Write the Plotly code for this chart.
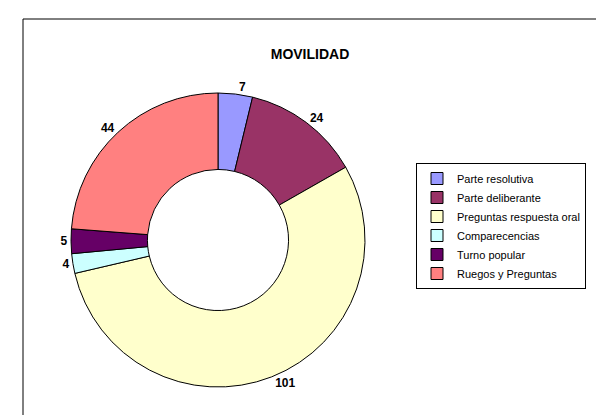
import plotly.graph_objects as go

categories = ["Parte resolutiva", "Parte deliberante", "Preguntas respuesta oral",
              "Comparecencias", "Turno popular", "Ruegos y Preguntas"]
values = [7, 24, 101, 4, 5, 44]
colors = ["#9999FF", "#993366", "#FFFFCC", "#CCFFFF", "#660066", "#FF8080"]

W, H = 604, 415

fig = go.Figure(go.Pie(
    labels=categories, values=values, sort=False, direction="clockwise", rotation=0,
    hole=0.48,
    marker=dict(colors=colors, line=dict(color="black", width=1)),
    texttemplate="%{value}", textposition="outside",
    textfont=dict(family="Liberation Sans, Arial", size=12, color="black", weight="bold"),
    domain=dict(x=[63 / W, 357 / W], y=[1 - 379 / H, 1 - 85 / H]),
    hoverinfo="label+value",
))

fig.update_layout(
    width=W, height=H, margin=dict(l=0, r=0, t=0, b=0),
    paper_bgcolor="white", plot_bgcolor="white",
    font=dict(family="Liberation Sans, Arial", color="black"),
    title=dict(text="<b>MOVILIDAD</b>", x=302 / W, xanchor="center",
               y=1 - 46 / H, yanchor="middle",
               font=dict(size=14, family="Liberation Sans, Arial", color="black")),
    legend=dict(x=408 / W, y=1 - 155 / H, xanchor="left", yanchor="top",
                bordercolor="black", borderwidth=1, bgcolor="white",
                font=dict(size=11, family="Liberation Sans, Arial", color="black"),
                itemwidth=30, tracegroupgap=0),
    shapes=[dict(type="rect", xref="paper", yref="paper",
                 x0=15 / W, x1=590 / W, y0=-0.05, y1=1 - 11 / H,
                 line=dict(color="black", width=1), fillcolor="rgba(0,0,0,0)")],
    showlegend=True,
)

fig.write_html("out.html")
